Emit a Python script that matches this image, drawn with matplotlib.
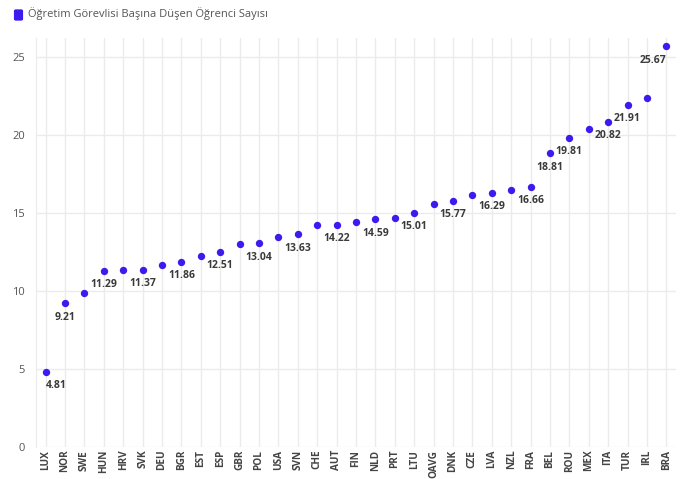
import matplotlib.pyplot as plt
from matplotlib.patches import FancyBboxPatch

countries = ["LUX", "NOR", "SWE", "HUN", "HRV", "SVK", "DEU", "BGR", "EST", "ESP", "GBR",
             "POL", "USA", "SVN", "CHE", "AUT", "FIN", "NLD", "PRT", "LTU", "OAVG", "DNK",
             "CZE", "LVA", "NZL", "FRA", "BEL", "ROU", "MEX", "ITA", "TUR", "IRL", "BRA"]
ratios = [4.81, 9.21, 9.87, 11.29, 11.35, 11.37, 11.69, 11.86, 12.24, 12.51, 13.01,
          13.04, 13.48, 13.63, 14.19, 14.22, 14.42, 14.59, 14.64, 15.01, 15.58, 15.77,
          16.17, 16.29, 16.45, 16.66, 18.81, 19.81, 20.38, 20.82, 21.91, 22.37, 25.67]
# which points carry a value label
labelled = ["LUX", "NOR", "HUN", "SVK", "BGR", "ESP", "POL", "SVN", "AUT", "NLD", "LTU",
            "DNK", "LVA", "FRA", "BEL", "ROU", "ITA", "TUR", "BRA"]
series_name = "Öğretim Görevlisi Başına Düşen Öğrenci Sayısı"

dot_color = "#3B1BEE"
grid_color = "#EBEBEB"

plt.rcParams['font.family'] = ['Open Sans', 'DejaVu Sans']

fig = plt.figure(figsize=(6.87, 4.79), dpi=100)
ax = fig.add_axes([36 / 687, 32 / 479, 640 / 687, 409 / 479])

xs = range(len(countries))
ax.scatter(xs, ratios, s=28, color=dot_color, zorder=3, linewidths=0)

for i, (c, v) in enumerate(zip(countries, ratios)):
    if c not in labelled:
        continue
    ha = 'center'
    if i == 0:
        ha = 'left'
    elif i == len(countries) - 1:
        ha = 'right'
    ax.annotate(f"{v:.2f}", (i, v), xytext=(0, -6), textcoords='offset points',
                ha=ha, va='top', fontsize=7.5, fontweight='bold', color='#3A3A3A')

ax.set_xlim(-0.5, len(countries) - 0.5)
ax.set_ylim(0, 26.2)
ax.set_yticks([0, 5, 10, 15, 20, 25])
ax.set_xticks(list(xs))
ax.set_xticklabels(countries, rotation=90, fontsize=7.2, fontweight='bold', color='#444444')
ax.tick_params(axis='y', labelsize=8, colors='#555555', length=0, pad=8)
ax.tick_params(axis='x', length=0, pad=2)

ax.grid(True, color=grid_color, linewidth=1)
ax.set_axisbelow(True)
for side in ['top', 'right', 'bottom']:
    ax.spines[side].set_visible(False)
ax.spines['left'].set_color(grid_color)

# legend marker + text at the top left
fig.patches.append(FancyBboxPatch((16 / 687, 1 - 19 / 479), 5 / 687, 8 / 479,
                                  boxstyle="round,pad=0.002", transform=fig.transFigure,
                                  facecolor=dot_color, edgecolor=dot_color))
fig.text(28 / 687, 1 - 14 / 479, series_name, fontsize=8, color='#555555', va='center')

fig.savefig("out.png", dpi=100)
